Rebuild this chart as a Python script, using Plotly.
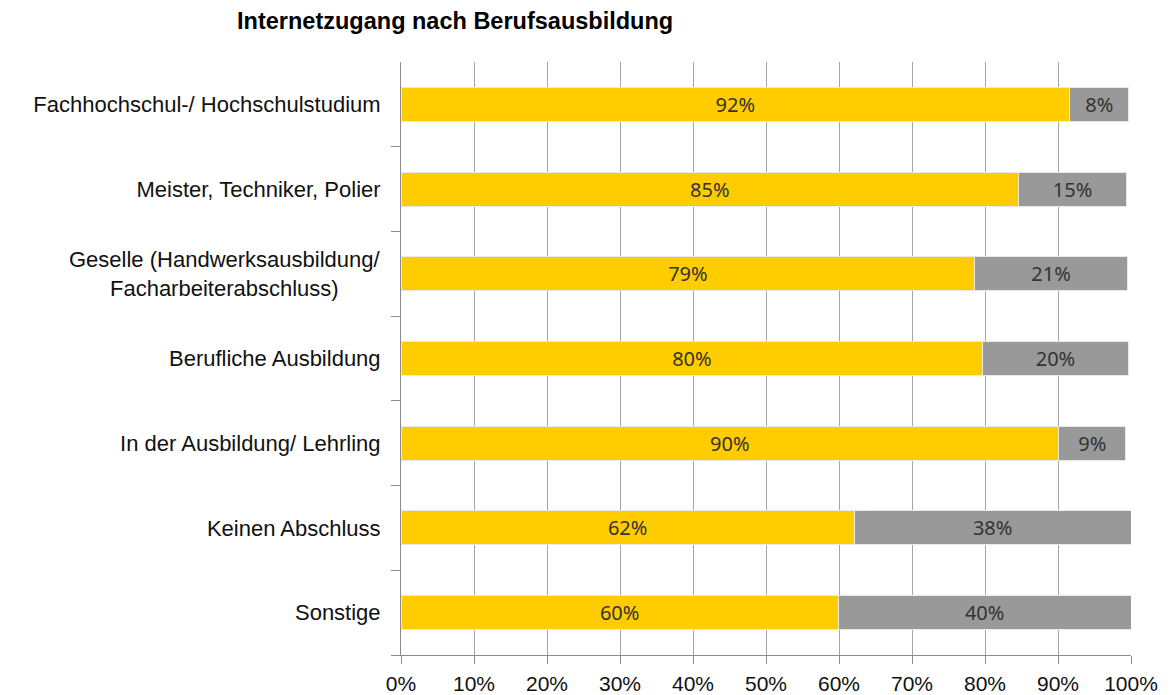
import plotly.graph_objects as go

# Categories from top to bottom
categories = [
    "Fachhochschul-/ Hochschulstudium",
    "Meister, Techniker, Polier",
    "Geselle (Handwerksausbildung/<br>Facharbeiterabschluss)",
    "Berufliche Ausbildung",
    "In der Ausbildung/ Lehrling",
    "Keinen Abschluss",
    "Sonstige",
]
# Share with internet access (%) and without (%)
with_access = [91.6, 84.6, 78.6, 79.7, 90.1, 62.1, 59.9]
without_access = [8.1, 14.8, 20.9, 19.9, 9.2, 37.9, 40.1]

x_ticks = list(range(0, 101, 10))
x_tick_labels = [f"{v}%" for v in x_ticks]

yellow = "#FFCC00"
grey = "#999999"
label_font = dict(family="Noto Sans, Open Sans, sans-serif", size=20, color="#333333")
axis_font = dict(family="Liberation Sans, Arial, sans-serif", size=22, color="#111111")
x_font = dict(family="Liberation Sans, Arial, sans-serif", size=21, color="#111111")

fig = go.Figure()
fig.add_trace(go.Bar(
    y=categories, x=with_access, orientation="h",
    marker=dict(color=yellow, line=dict(color="#e8e8e8", width=1)),
    texttemplate="%{x:.0f}%", textposition="inside", insidetextanchor="middle",
    textfont=label_font, name="mit Internetzugang",
))
fig.add_trace(go.Bar(
    y=categories, x=without_access, orientation="h",
    marker=dict(color=grey, line=dict(color="#e8e8e8", width=1)),
    texttemplate="%{x:.0f}%", textposition="inside", insidetextanchor="middle",
    textfont=label_font, name="ohne Internetzugang",
))

# Multi-line category label drawn centred, right edge next to the axis
multi = categories[2]
tick_text = ["" if c == multi else c for c in categories]

fig.add_annotation(
    text=multi, xref="paper", yref="y", x=0, y=multi,
    xanchor="right", yanchor="middle", align="center",
    xshift=-19, showarrow=False, font=axis_font,
)

fig.update_layout(
    barmode="stack",
    bargap=0.6,
    width=1170, height=695,
    margin=dict(l=401, r=39, t=62, b=40),
    paper_bgcolor="white", plot_bgcolor="white",
    showlegend=False,
    uniformtext=dict(mode="show", minsize=10),
    title=dict(
        text="<b>Internetzugang nach Berufsausbildung</b>",
        x=0.389, xanchor="center", y=0.970, yanchor="middle",
        font=dict(family="Liberation Sans, Arial, sans-serif", size=23.5, color="#000000"),
    ),
    xaxis=dict(
        range=[0, 100], tickmode="array", tickvals=x_ticks, ticktext=x_tick_labels,
        showgrid=True, gridcolor="#a6a6a6", gridwidth=1,
        showline=True, linecolor="#8c8c8c", linewidth=1,
        ticks="outside", ticklen=8, tickcolor="#8c8c8c",
        tickfont=x_font, zeroline=False, fixedrange=True, automargin=False,
        ticklabelstandoff=2,
    ),
    yaxis=dict(
        categoryorder="array", categoryarray=categories[::-1],
        tickmode="array", tickvals=categories, ticktext=tick_text,
        tickson="boundaries", ticks="outside", ticklen=9, tickcolor="#8c8c8c",
        showgrid=False, showline=True, linecolor="#8c8c8c", linewidth=1,
        tickfont=axis_font, ticklabelstandoff=15, fixedrange=True, automargin=False,
    ),
)

fig.write_html("out.html")
